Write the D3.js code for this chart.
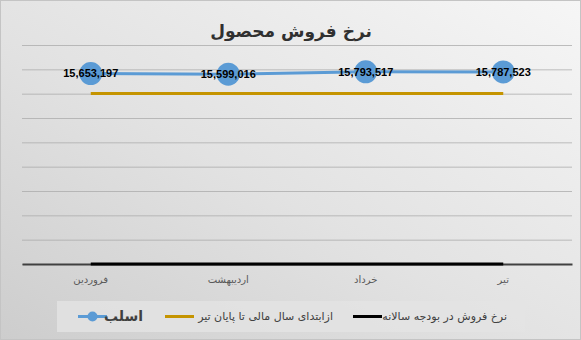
<!DOCTYPE html>
<html>
<head>
<meta charset="utf-8">
<script src="https://cdn.jsdelivr.net/npm/d3@7"></script>
<style>
  html, body { margin: 0; padding: 0; background: #fff; }
  svg { display: block; }
</style>
</head>
<body>
<svg id="chart" width="581" height="340"></svg>
<script>
// Monthly categories (Persian calendar)
const months = ["فروردین", "اردیبهشت", "خرداد", "تیر"];
// Actual sales rate for slab (اسلب)
const slabRate = [15653197, 15599016, 15793517, 15787523];
// Average from start of fiscal year to end of Tir
const ytdRate = [14020000, 14020000, 14020000, 14020000];
// Annual budget sales rate
const budgetRate = [0, 0, 0, 0];
// Value axis ticks (gridlines only, no labels shown)
const yTicks = [0, 2000000, 4000000, 6000000, 8000000, 10000000, 12000000, 14000000, 16000000, 18000000];

const W = 581, H = 340;
const plot = { left: 22, right: 572, top: 45, bottom: 264 };
const faFont = "'DejaVu Sans', sans-serif";

const svg = d3.select("#chart");
const defs = svg.append("defs");
const grad = defs.append("linearGradient").attr("id", "bg")
  .attr("x1", "100%").attr("y1", "0%").attr("x2", "0%").attr("y2", "100%");
grad.append("stop").attr("offset", "0%").attr("stop-color", "#f6f6f6");
grad.append("stop").attr("offset", "55%").attr("stop-color", "#e2e2e2");
grad.append("stop").attr("offset", "100%").attr("stop-color", "#cdcdcd");

svg.append("rect").attr("x", 0.5).attr("y", 0.5).attr("width", W - 1).attr("height", H - 1)
  .attr("fill", "url(#bg)").attr("stroke", "#c4c4c4");

const x = d3.scaleBand().domain(months).range([plot.left, plot.right]);
const y = d3.scaleLinear().domain([0, 18000000]).range([plot.bottom, plot.top]);
const cx = d => x(d) + x.bandwidth() / 2;

// Horizontal gridlines
svg.append("g")
  .attr("transform", `translate(${plot.left},0)`)
  .call(d3.axisLeft(y).tickValues(yTicks).tickSize(-(plot.right - plot.left)).tickFormat(""))
  .call(g => g.select(".domain").remove())
  .call(g => g.selectAll(".tick line").attr("stroke", "#a9a9a9").attr("stroke-opacity", 0.75).attr("stroke-width", 1));

// Category axis
const xAxis = svg.append("g")
  .attr("transform", `translate(0,${plot.bottom})`)
  .call(d3.axisBottom(x).tickSize(0).tickPadding(12));
xAxis.select(".domain").attr("stroke", "#404040").attr("stroke-width", 2);
xAxis.selectAll(".tick text")
  .attr("font-family", faFont).attr("font-size", 10).attr("fill", "#595959");

const line = d3.line().x((d, i) => cx(months[i])).y(d => y(d));

// Budget line (black)
svg.append("path").datum(budgetRate).attr("d", line)
  .attr("fill", "none").attr("stroke", "#000").attr("stroke-width", 3);

// Year-to-date line (gold)
svg.append("path").datum(ytdRate).attr("d", line)
  .attr("fill", "none").attr("stroke", "#c59400").attr("stroke-width", 3);

// Slab line with markers (blue)
svg.append("path").datum(slabRate).attr("d", line)
  .attr("fill", "none").attr("stroke", "#5b9bd5").attr("stroke-width", 3);
svg.append("g").selectAll("circle").data(slabRate).join("circle")
  .attr("cx", (d, i) => cx(months[i])).attr("cy", d => y(d)).attr("r", 11.5)
  .attr("fill", "#5b9bd5");

// Value labels
svg.append("g").selectAll("text").data(slabRate).join("text")
  .attr("x", (d, i) => cx(months[i])).attr("y", d => y(d))
  .attr("dy", "0.35em").attr("text-anchor", "middle")
  .attr("font-family", "'Liberation Sans', Arial, sans-serif")
  .attr("font-size", 11).attr("font-weight", "bold").attr("fill", "#000")
  .text(d => d3.format(",")(d));

// Title
svg.append("text").attr("x", 291).attr("y", 37).attr("text-anchor", "middle")
  .attr("font-family", faFont).attr("font-size", 17).attr("font-weight", "bold")
  .attr("fill", "#303030").text("نرخ فروش محصول");

// Legend
const legend = svg.append("g");
legend.append("rect").attr("x", 57).attr("y", 301).attr("width", 468).attr("height", 31)
  .attr("fill", "#e4e4e4").attr("opacity", 0.8);
const ly = 316.5;
const items = [
  { label: "اسلب", color: "#5b9bd5", x0: 78, marker: true, bold: true, size: 14, textX: 143 },
  { label: "ازابتدای سال مالی تا پایان تیر", color: "#c59400", x0: 165, marker: false, bold: false, size: 11, textX: 333 },
  { label: "نرخ فروش در بودجه سالانه", color: "#000", x0: 353, marker: false, bold: false, size: 11, textX: 507 }
];
items.forEach(it => {
  legend.append("line").attr("x1", it.x0).attr("x2", it.x0 + 29).attr("y1", ly).attr("y2", ly)
    .attr("stroke", it.color).attr("stroke-width", 3);
  if (it.marker) {
    legend.append("circle").attr("cx", it.x0 + 14.5).attr("cy", ly).attr("r", 5).attr("fill", it.color);
  }
  legend.append("text").attr("x", it.textX).attr("y", ly).attr("dy", "0.35em")
    .attr("text-anchor", "end")
    .attr("font-family", faFont).attr("font-size", it.size)
    .attr("font-weight", it.bold ? "bold" : "normal").attr("fill", "#404040")
    .text(it.label);
});
</script>
</body>
</html>
